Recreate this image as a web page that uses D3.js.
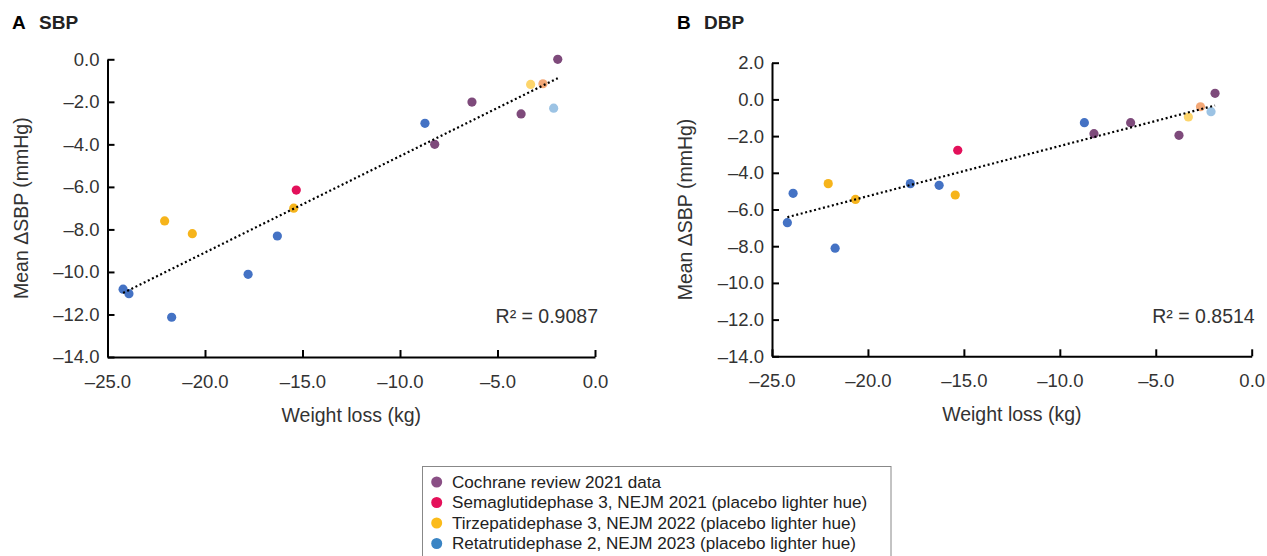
<!DOCTYPE html>
<html>
<head>
<meta charset="utf-8">
<script src="https://cdn.jsdelivr.net/npm/d3@7"></script>
<style>
  body { margin: 0; background: #fff; }
  svg { font-family: "Liberation Sans", Arial, sans-serif; }
</style>
</head>
<body>
<svg id="chart" width="1267" height="556"></svg>
<script>
// weight loss (kg) per study arm, shared by both panels
var cochraneWeight = [-1.91, -6.31, -3.79, -8.22];
var cochraneSBP    = [0.0, -2.01, -2.57, -4.0];
var cochraneDBP    = [0.33, -1.27, -1.96, -1.87];

var semaWeight = [-15.32];
var semaSBP    = [-6.15];
var semaDBP    = [-2.77];
var semaPlaceboWeight = [-2.67];
var semaPlaceboSBP    = [-1.15];
var semaPlaceboDBP    = [-0.40];

var tirzWeight = [-15.45, -22.07, -20.65];
var tirzSBP    = [-7.0, -7.6, -8.2];
var tirzDBP    = [-5.21, -4.59, -5.45];
var tirzPlaceboWeight = [-3.30];
var tirzPlaceboSBP    = [-1.18];
var tirzPlaceboDBP    = [-0.96];

var retaWeight = [-8.72, -16.29, -17.79, -24.2, -23.9, -21.71];
var retaSBP    = [-3.01, -8.31, -10.11, -10.81, -11.02, -12.13];
var retaDBP    = [-1.27, -4.68, -4.59, -6.72, -5.12, -8.11];
var retaPlaceboWeight = [-2.12];
var retaPlaceboSBP    = [-2.30];
var retaPlaceboDBP    = [-0.67];

var rSquared = ["0.9087", "0.8514"];

var legendLabels = [
  "Cochrane review 2021 data",
  "Semaglutidephase 3, NEJM 2021 (placebo lighter hue)",
  "Tirzepatidephase 3, NEJM 2022 (placebo lighter hue)",
  "Retatrutidephase 2, NEJM 2023 (placebo lighter hue)"
];
var legendColors = ["#8a4f85", "#e5105a", "#fbbb1a", "#3a84c4"];

// series list: weight, sbp, dbp, colour
var series = [
  [cochraneWeight, cochraneSBP, cochraneDBP, "#7e4a7b"],
  [semaWeight, semaSBP, semaDBP, "#e3105a"],
  [semaPlaceboWeight, semaPlaceboSBP, semaPlaceboDBP, "#f3a877"],
  [tirzWeight, tirzSBP, tirzDBP, "#f6b41b"],
  [tirzPlaceboWeight, tirzPlaceboSBP, tirzPlaceboDBP, "#fdd56b"],
  [retaWeight, retaSBP, retaDBP, "#4472c4"],
  [retaPlaceboWeight, retaPlaceboSBP, retaPlaceboDBP, "#9cc3e4"]
];

var svg = d3.select("#chart");
var fmt = function(d) { return d3.format(".1f")(d).replace("\u2212", "\u2013").replace("-", "\u2013"); };

var panels = [
  {letter: "A", name: "SBP", col: 1, left: 107.5, right: 595, top: 59.3, bottom: 357, ymax: 0, letterX: 12, nameX: 39, r2: rSquared[0]},
  {letter: "B", name: "DBP", col: 2, left: 772, right: 1251.7, top: 62.7, bottom: 356.3, ymax: 2, letterX: 677, nameX: 704, r2: rSquared[1]}
];

panels.forEach(function(p) {
  var x = d3.scaleLinear().domain([-25, 0]).range([p.left, p.right]);
  var y = d3.scaleLinear().domain([-14, p.ymax]).range([p.bottom, p.top]);
  var g = svg.append("g");

  // titles
  g.append("text").attr("x", p.letterX).attr("y", 29)
    .attr("font-size", 19).attr("font-weight", "bold").attr("fill", "#000").text(p.letter);
  g.append("text").attr("x", p.nameX).attr("y", 29)
    .attr("font-size", 19).attr("font-weight", "bold").attr("fill", "#222").text(p.name);

  // axes
  var xAxis = d3.axisBottom(x).tickValues(d3.range(-25, 0.1, 5))
    .tickFormat(fmt).tickSizeInner(-7).tickSizeOuter(0).tickPadding(18);
  var yAxis = d3.axisLeft(y).tickValues(d3.range(-14, p.ymax + 0.1, 2))
    .tickFormat(fmt).tickSizeInner(-7).tickSizeOuter(0).tickPadding(8);

  var gx = g.append("g").attr("transform", "translate(0," + p.bottom + ")").call(xAxis);
  var gy = g.append("g").attr("transform", "translate(" + p.left + ",0)").call(yAxis);
  [gx, gy].forEach(function(a) {
    a.selectAll("path, line").attr("stroke", "#000").attr("stroke-width", 2);
    a.selectAll("text").attr("font-size", 18.5).attr("fill", "#333")
      .attr("font-family", "Liberation Sans, Arial, sans-serif");
  });

  // axis titles
  g.append("text").attr("x", (p.left + p.right) / 2).attr("y", p.bottom + 65)
    .attr("text-anchor", "middle").attr("font-size", 19.5).attr("fill", "#333")
    .text("Weight loss (kg)");
  g.append("text")
    .attr("transform", "translate(" + (p.left - 80) + "," + ((p.top + p.bottom) / 2) + ") rotate(-90)")
    .attr("text-anchor", "middle").attr("font-size", 19.5).attr("fill", "#333")
    .text("Mean \u0394SBP (mmHg)");

  // points
  var pts = [];
  series.forEach(function(s) {
    s[0].forEach(function(w, i) {
      pts.push({x: w, y: s[p.col][i], c: s[3]});
    });
  });

  g.append("g").selectAll("circle").data(pts).enter().append("circle")
    .attr("cx", function(d) { return x(d.x); })
    .attr("cy", function(d) { return y(d.y); })
    .attr("r", 4.6)
    .attr("fill", function(d) { return d.c; });

  // least squares trend line over the points
  var mx = d3.mean(pts, function(d) { return d.x; });
  var my = d3.mean(pts, function(d) { return d.y; });
  var sxy = d3.sum(pts, function(d) { return (d.x - mx) * (d.y - my); });
  var sxx = d3.sum(pts, function(d) { return (d.x - mx) * (d.x - mx); });
  var slope = sxy / sxx, icpt = my - slope * mx;
  var ext = d3.extent(pts, function(d) { return d.x; });
  g.append("line")
    .attr("x1", x(ext[0])).attr("y1", y(icpt + slope * ext[0]))
    .attr("x2", x(ext[1])).attr("y2", y(icpt + slope * ext[1]))
    .attr("stroke", "#000").attr("stroke-width", 2.2)
    .attr("stroke-dasharray", "2,2.6");

  g.append("text").attr("x", p.right + 3).attr("y", 323)
    .attr("text-anchor", "end").attr("font-size", 19.5).attr("fill", "#333")
    .text("R\u00B2 = " + p.r2);
});

// legend
var lg = svg.append("g");
lg.append("rect").attr("x", 422.5).attr("y", 466.5).attr("width", 468.5).attr("height", 100)
  .attr("fill", "#fff").attr("stroke", "#888").attr("stroke-width", 1);
legendLabels.forEach(function(l, i) {
  var cy = 482 + i * 20.5;
  lg.append("circle").attr("cx", 436.7).attr("cy", cy).attr("r", 5.5).attr("fill", legendColors[i]);
  lg.append("text").attr("x", 452).attr("y", cy).attr("dy", "0.35em")
    .attr("font-size", 17.1).attr("fill", "#222").text(l);
});
</script>
</body>
</html>
